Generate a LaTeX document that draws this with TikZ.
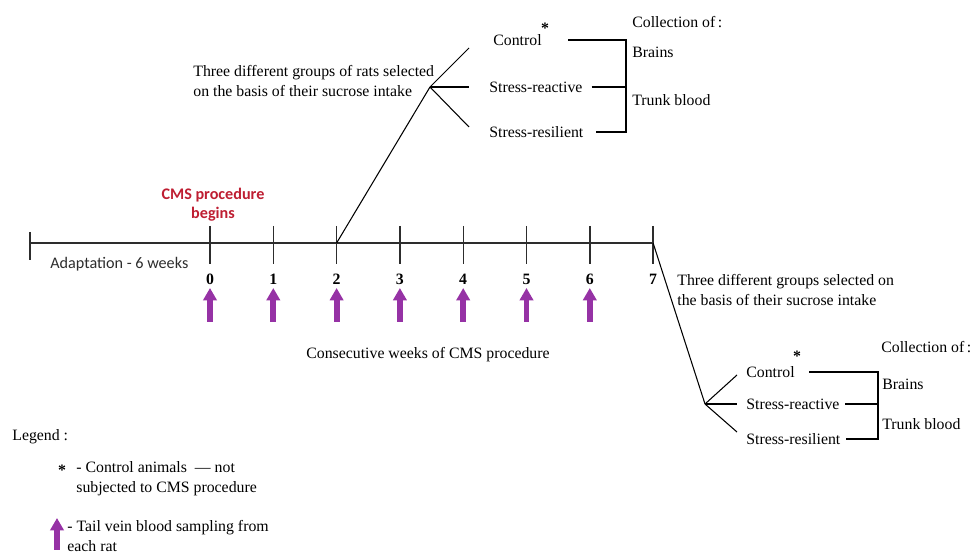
\documentclass[tikz,border=0pt]{standalone}
\usepackage{fontspec}
\setmainfont{Liberation Serif}
\setsansfont{Carlito}
\usetikzlibrary{arrows.meta,positioning}

\definecolor{cmsred}{RGB}{190,30,50}
\definecolor{sampling}{RGB}{150,50,165}
\definecolor{axisgray}{RGB}{45,45,45}

\begin{document}
\begin{tikzpicture}[x=0.02cm, y=-0.02cm, line cap=butt,
  txt/.style={font=\fontsize{9}{11.5}\selectfont, inner sep=0pt, anchor=west, align=left},
  wk/.style={font=\fontsize{9}{10}\selectfont\bfseries, inner sep=0pt},
  star/.style={font=\fontsize{9}{9}\selectfont\bfseries, inner sep=0pt},
  samplearrow/.style={draw=sampling, line width=3.4pt, -{Triangle[length=7pt,width=7.5pt]}},
  link/.style={draw=black, line width=0.6pt},
  axis/.style={draw=axisgray, line width=0.8pt}]

\useasboundingbox (0,0) rectangle (971,553);

% Time axis
\coordinate (start) at (30,243);
\coordinate (end) at (653,243);
\draw[axis] (start) -- (end);
\draw[axis] (30,232) -- (30,260);

\foreach \w in {0,...,7} {
  \coordinate (t\w) at ({210+63.3*\w},243);
  \draw[axis] ({210+63.3*\w},226) -- ({210+63.3*\w},264);
  \node[wk] (w\w) at ({210+63.3*\w},279) {\w};
}
\foreach \w in {0,...,6}
  \draw[samplearrow] ({210+63.3*\w},322) -- ({210+63.3*\w},288);

\node[font=\fontsize{9.2}{10.8}\selectfont\sffamily\bfseries, text=cmsred, align=center, inner sep=0pt]
  (cms) at (213,205) {CMS procedure\\begins};
\node[font=\fontsize{9.2}{10}\selectfont\sffamily, text=axisgray, inner sep=0pt, anchor=west]
  (adapt) at (50,264) {Adaptation - 6 weeks};
\node[txt, anchor=center] (weeks) at (428,355) {Consecutive weeks of CMS procedure};

% First selection (week 2)
\coordinate (forkA) at (430,87);
\draw[link] (t2) -- (forkA);
\coordinate (a1) at (469,48);
\coordinate (a2) at (469,87);
\coordinate (a3) at (469,127);
\draw[link] (forkA) -- (a1);
\draw[link] (forkA) -- (a2);
\draw[link] (forkA) -- (a3);

\node[txt, anchor=north west] (hdrA) at (193,65)
  {Three different groups of rats selected\\on the basis of their sucrose intake};
\node[txt] (ctA) at (493,40) {Control};
\node[star] (stA) at (545,28) {*};
\node[txt] (srA) at (489,87) {Stress-reactive};
\node[txt] (rsA) at (489,132) {Stress-resilient};

\coordinate (brA) at (626,0);
\draw[link] ([xshift=15pt]ctA.east) -- (ctA.east -| brA) -- (rsA.east -| brA) -- ([xshift=7pt]rsA.east);
\draw[link] ([xshift=5pt]srA.east) -- (srA.east -| brA);

\node[txt] (colA) at (632,22) {Collection of\,:};
\node[txt] (brnA) at (632,52) {Brains};
\node[txt] (tbA) at (632,100) {Trunk blood};

% Second selection (week 7)
\coordinate (forkB) at (705,404);
\draw[link] (t7) -- (forkB);
\coordinate (b1) at (737,375);
\coordinate (b2) at (737,404);
\coordinate (b3) at (737,432);
\draw[link] (forkB) -- (b1);
\draw[link] (forkB) -- (b2);
\draw[link] (forkB) -- (b3);

\node[txt, anchor=north west] (hdrB) at (677,274)
  {Three different groups selected on\\the basis of their sucrose intake};
\node[txt] (ctB) at (746,372) {Control};
\node[star] (stB) at (797,356) {*};
\node[txt] (srB) at (746,404) {Stress-reactive};
\node[txt] (rsB) at (746,439) {Stress-resilient};

\coordinate (brB) at (878,0);
\draw[link] ([xshift=8pt]ctB.east) -- (ctB.east -| brB) -- (rsB.east -| brB) -- ([xshift=3pt]rsB.east);
\draw[link] ([xshift=3pt]srB.east) -- (srB.east -| brB);

\node[txt] (colB) at (881,347) {Collection of\,:};
\node[txt] (brnB) at (882,384) {Brains};
\node[txt] (tbB) at (882,424) {Trunk blood};

% Legend
\node[txt] (leg) at (12,437) {Legend :};
\node[star] (legstar) at (62,470) {*};
\node[txt, anchor=north west] (legctl) at (76,461)
  {- Control animals~ — not\\subjected to CMS procedure};
\draw[samplearrow] (57,550) -- (57,518);
\node[txt, anchor=north west] (legarr) at (67,520)
  {- Tail vein blood sampling from\\each rat};

\end{tikzpicture}
\end{document}
